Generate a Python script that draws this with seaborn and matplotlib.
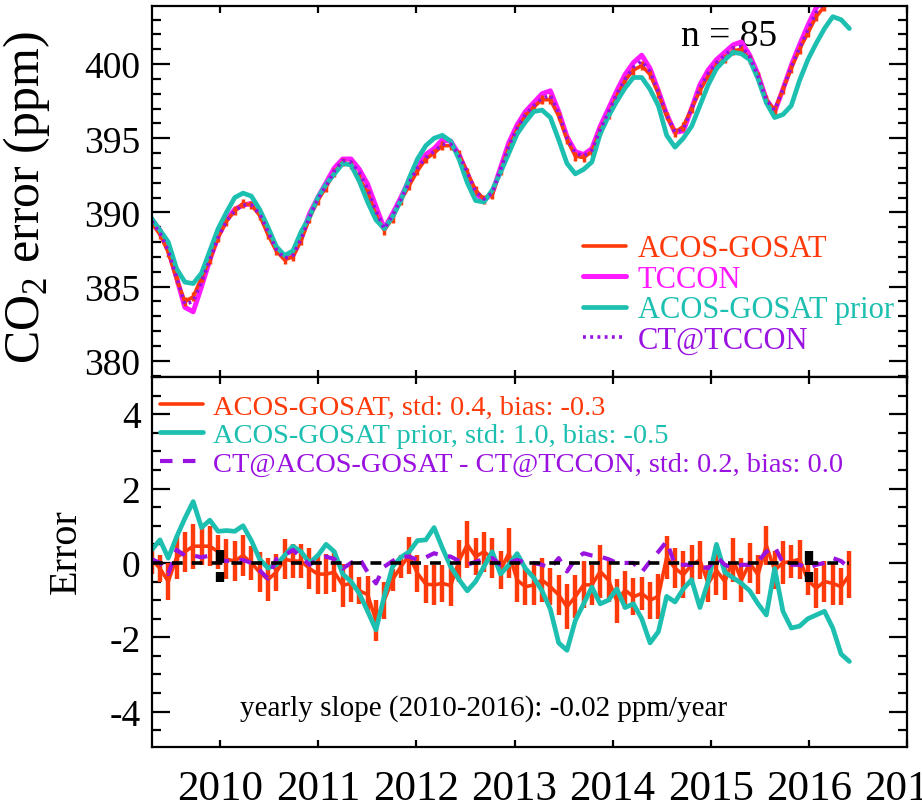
import matplotlib
matplotlib.use("Agg")
import matplotlib.pyplot as plt
import numpy as np
import pandas as pd
import seaborn as sns
from matplotlib.ticker import MultipleLocator

# monthly samples, mid 2009 -> mid 2016 (n = 85)
years = 2009.30 + np.arange(85) * 0.0847

acos = [389.3, 388.5, 387.3, 385.5, 384.0, 384.3, 385.6, 386.8, 388.3, 389.4,
        390.1, 390.6, 390.5, 389.8, 388.5, 387.4, 386.8, 387.0, 388.1, 389.6,
        390.8, 391.7, 392.7, 393.4, 393.2, 392.3, 391.3, 389.8, 388.8, 389.6,
        390.8, 391.8, 392.8, 393.6, 394.0, 394.5, 394.5, 393.9, 392.7, 391.5,
        390.9, 391.2, 392.8, 394.4, 395.6, 396.5, 397.1, 397.6, 397.6, 396.5,
        394.9, 393.8, 393.7, 394.1, 395.5, 396.6, 397.8, 398.9, 399.6, 399.9,
        399.3, 398.0, 396.5, 395.4, 395.8, 397.0, 398.2, 399.2, 399.9, 400.4,
        400.9, 401.0, 400.3, 399.2, 397.6, 396.9, 398.3, 399.7, 401.0, 402.1,
        403.2, 403.9, 404.3, 404.5, 404.3]
tccon = [389.5, 388.8, 387.5, 385.6, 383.6, 383.3, 385.0, 386.8, 388.4, 389.5,
         390.2, 390.5, 390.6, 390.0, 388.8, 387.6, 386.9, 387.1, 388.3, 389.9,
         391.0, 392.0, 393.0, 393.6, 393.6, 392.9, 391.9, 390.4, 388.9, 389.9,
         391.0, 392.2, 393.1, 393.9, 394.3, 394.9, 394.8, 393.9, 392.6, 391.3,
         390.8, 391.3, 393.0, 394.7, 395.9, 396.8, 397.4, 398.0, 398.2, 396.8,
         395.1, 394.1, 393.9, 394.3, 395.8, 397.0, 398.2, 399.3, 400.1, 400.6,
         399.7, 398.2, 396.6, 395.4, 395.5, 397.0, 398.6, 399.6, 400.3, 400.8,
         401.3, 401.5, 400.6, 399.3, 397.6, 396.8, 398.3, 399.9, 401.3, 402.6,
         403.8, 404.5, 404.9, 405.1, 405.0]
prior = [389.6, 388.8, 388.0, 386.2, 385.3, 385.2, 385.9, 387.4, 388.9, 390.0,
         391.0, 391.3, 391.1, 390.2, 389.0, 387.7, 387.1, 387.4, 388.7, 389.7,
         391.0, 391.9, 392.6, 393.3, 393.2, 392.1, 390.7, 389.5, 388.9, 389.7,
         390.8, 392.3, 393.6, 394.5, 395.0, 395.2, 394.8, 393.6, 392.0, 390.8,
         390.7, 391.5, 392.7, 394.0, 395.3, 396.1, 396.8, 396.9, 396.4, 394.9,
         393.3, 392.6, 392.9, 393.4, 395.3, 396.5, 397.5, 398.4, 399.1, 399.1,
         398.3, 397.2, 395.2, 394.4, 395.0, 395.8, 397.2, 398.6, 399.7, 400.3,
         400.8, 400.7, 400.3, 399.0, 397.4, 396.4, 396.6, 397.2, 398.9, 400.3,
         401.4, 402.4, 403.2, 403.0, 402.4]
ct_tccon = [389.4, 388.6, 387.4, 385.6, 383.8, 384.0, 385.3, 386.8, 388.3, 389.4,
            390.1, 390.5, 390.5, 389.9, 388.7, 387.5, 386.9, 387.1, 388.2, 389.7,
            390.9, 391.8, 392.8, 393.5, 393.4, 392.7, 391.6, 390.1, 388.9, 389.8,
            390.9, 392.0, 393.0, 393.7, 394.1, 394.6, 394.6, 393.9, 392.7, 391.4,
            390.9, 391.3, 392.9, 394.5, 395.7, 396.6, 397.2, 397.7, 397.9, 396.7,
            395.0, 394.0, 393.8, 394.2, 395.6, 396.8, 398.0, 399.0, 399.8, 400.2,
            399.5, 398.1, 396.6, 395.4, 395.6, 397.0, 398.4, 399.4, 400.1, 400.6,
            401.1, 401.2, 400.5, 399.2, 397.6, 396.9, 398.3, 399.8, 401.1, 402.3,
            403.5, 404.2, 404.6, 404.8, 404.7]

err_acos = [0.10, -0.15, -0.50, 0.15, 0.30, 0.45, 0.45, 0.45, 0.30, 0.10,
            0.05, 0.20, 0.00, -0.25, -0.45, -0.25, 0.10, 0.05, 0.05, -0.15,
            -0.30, -0.30, -0.25, -0.60, -0.55, -0.75, -0.85, -1.55, -1.00, -0.45,
            -0.10, 0.20, -0.28, -0.57, -0.59, -0.55, -0.61, 0.06, 0.49, 0.17,
            0.30, 0.13, -0.19, 0.26, -0.46, -0.64, -0.59, -0.46, -0.64, -0.86,
            -1.18, -0.91, -0.59, -0.59, -0.23, -0.46, -1.02, -0.73, -0.91, -0.82,
            -1.00, -0.90, 0.15, -0.14, -0.32, -0.05, 0.08, -0.55, -0.20, -0.50,
            0.08, -0.46, 0.00, -0.32, 0.47, -0.19, 0.00, 0.04, 0.10, -0.46,
            -0.68, -0.50, -0.55, -0.64, -0.32]
err_acos_sd = [0.40, 0.36, 0.50, 0.58, 0.54, 0.60, 0.50, 0.54, 0.45, 0.54,
               0.54, 0.54, 0.45, 0.54, 0.58, 0.50, 0.54, 0.45, 0.45, 0.54,
               0.54, 0.54, 0.54, 0.58, 0.50, 0.36, 0.50, 0.54, 0.50, 0.30,
               0.30, 0.50, 0.50, 0.52, 0.54, 0.50, 0.56, 0.56, 0.63, 0.50,
               0.54, 0.54, 0.50, 0.67, 0.58, 0.50, 0.54, 0.58, 0.50, 0.54,
               0.60, 0.58, 0.63, 0.54, 0.72, 0.58, 0.60, 0.50, 0.50, 0.45,
               0.50, 0.60, 0.58, 0.54, 0.63, 0.54, 0.50, 0.50, 0.65, 0.50,
               0.58, 0.58, 0.54, 0.52, 0.52, 0.50, 0.58, 0.45, 0.52, 0.40,
               0.54, 0.54, 0.58, 0.50, 0.63]
err_prior = [0.35, 0.62, 0.13, 0.70, 1.20, 1.65, 0.95, 1.15, 0.85, 0.87,
             0.85, 1.00, 0.60, 0.10, -0.14, -0.05, 0.20, 0.45, 0.30, 0.00,
             0.20, 0.50, 0.30, -0.30, -0.50, -0.82, -1.30, -1.80, -0.90, -0.10,
             0.15, 0.30, 0.60, 0.62, 0.95, 0.40, -0.10, -0.45, -0.75, -0.50,
             -0.10, 0.30, -0.30, -0.05, 0.25, -0.15, -0.40, -0.75, -1.25, -2.15,
             -2.35, -1.55, -1.10, -0.65, -1.10, -1.00, -0.70, -1.20, -1.10, -1.50,
             -2.15, -1.85, -0.90, -1.05, -0.70, -0.45, -1.20, -0.50, 0.50, -0.25,
             -0.40, -0.55, -0.75, -1.10, -1.40, -0.15, -1.30, -1.75, -1.70, -1.50,
             -1.40, -1.30, -1.75, -2.45, -2.65]
err_ct = [0.10, 0.00, -0.30, 0.35, 0.20, 0.20, 0.15, 0.20, 0.10, 0.05,
          0.08, 0.08, 0.00, -0.20, -0.42, 0.10, 0.20, 0.35, 0.15, -0.05,
          0.10, 0.17, 0.10, -0.15, 0.00, 0.13, -0.25, -0.55, -0.10, 0.05,
          0.17, 0.17, 0.08, 0.15, 0.26, 0.20, 0.17, 0.05, -0.05, 0.03,
          0.10, 0.13, -0.05, 0.00, 0.08, 0.00, 0.00, -0.05, -0.14, 0.13,
          -0.23, 0.10, 0.26, 0.20, 0.17, 0.10, 0.00, 0.00, 0.00, -0.25,
          0.04, 0.30, 0.58, -0.05, -0.05, -0.05, -0.10, -0.14, 0.17, -0.05,
          -0.14, -0.05, -0.05, 0.04, 0.30, 0.44, 0.00, -0.05, -0.05, -0.14,
          -0.05, 0.00, 0.13, 0.05, -0.14]

# black reference bars at 2010 and 2016
mark_x = [2010, 2010, 2016, 2016]
mark_lo = [0.0, -0.50, -0.05, -0.50]
mark_hi = [0.35, -0.25, 0.32, -0.25]

RED = "#ff3a0a"
MAGENTA = "#ff1aff"
TEAL = "#1dbfb0"
PURPLE = "#9a12e0"

sns.set_style("ticks")
plt.rcParams["font.family"] = ["Liberation Serif", "DejaVu Serif"]
plt.rcParams["mathtext.fontset"] = "custom"
plt.rcParams["mathtext.rm"] = "Liberation Serif"
plt.rcParams["axes.unicode_minus"] = False
plt.rcParams["axes.linewidth"] = 1.6
for key in ["axes.edgecolor", "axes.labelcolor", "text.color",
            "xtick.color", "ytick.color"]:
    plt.rcParams[key] = "black"

top = pd.DataFrame({"year": years, "acos": acos, "tccon": tccon,
                    "prior": prior, "ct": ct_tccon})
bot = pd.DataFrame({"year": years, "acos": err_acos, "sd": err_acos_sd,
                    "prior": err_prior, "ct": err_ct})

fig = plt.figure(figsize=(9.22, 8.12), dpi=100)
ax1 = fig.add_axes([0.1645, 0.5345, 0.819, 0.4565])
ax2 = fig.add_axes([0.1645, 0.0788, 0.819, 0.4557], sharex=ax1)

# ---- top panel
sns.lineplot(data=top, x="year", y="tccon", color=MAGENTA, lw=3.6, label="TCCON", ax=ax1)
ax1.vlines(top["year"], top["acos"] - 0.3, top["acos"] + 0.3, color=RED, lw=2.5)
sns.lineplot(data=top, x="year", y="acos", color=RED, lw=2.6, label="ACOS-GOSAT", ax=ax1)
sns.lineplot(data=top, x="year", y="prior", color=TEAL, lw=3.4, label="ACOS-GOSAT prior", ax=ax1)
sns.lineplot(data=top, x="year", y="ct", color=PURPLE, lw=2.6, label="CT@TCCON", ax=ax1)
ax1.lines[-1].set_dashes([0.8, 1.2])

h, l = ax1.get_legend_handles_labels()
idx = [l.index(s) for s in ["ACOS-GOSAT", "TCCON", "ACOS-GOSAT prior", "CT@TCCON"]]
ax1.legend([h[i] for i in idx], [l[i] for i in idx], loc="upper left",
           bbox_to_anchor=(0.571, 0.385), frameon=False, fontsize=22,
           labelcolor="linecolor", handlelength=1.4, handletextpad=0.4,
           labelspacing=0.05, borderpad=0, borderaxespad=0)
ax1.text(2015.19, 401.9, "n = 85", fontsize=27, ha="center", va="center", zorder=1)

ax1.set_xlim(2009.30, 2017.0)
ax1.set_ylim(378.9, 403.9)
ax1.yaxis.set_major_locator(MultipleLocator(5))
ax1.yaxis.set_minor_locator(MultipleLocator(1))
ax1.set_xlabel("")
ax1.set_ylabel("CO$_\\mathrm{2}$ error (ppm)", fontsize=36)
ax1.yaxis.set_label_coords(-0.132, 0.488)
ax1.tick_params(axis="x", labelbottom=False)

# ---- bottom panel
ax2.vlines(bot["year"], bot["acos"] - bot["sd"], bot["acos"] + bot["sd"], color=RED, lw=3.2)
sns.lineplot(data=bot, x="year", y="acos", color=RED, lw=2.6,
             label="ACOS-GOSAT, std: 0.4, bias: -0.3", ax=ax2)
sns.lineplot(data=bot, x="year", y="prior", color=TEAL, lw=3.4,
             label="ACOS-GOSAT prior, std: 1.0, bias: -0.5", ax=ax2)
sns.lineplot(data=bot, x="year", y="ct", color=PURPLE, lw=3.0,
             label="CT@ACOS-GOSAT - CT@TCCON, std: 0.2, bias: 0.0", ax=ax2)
ax2.lines[-1].set_dashes([3, 2.5])
ax2.hlines(0, years[0], years[-1], color="black", lw=2.6, linestyles=(0, (3, 2.5)))
ax2.vlines(mark_x, mark_lo, mark_hi, color="black", lw=6)

ax2.legend(loc="upper left", bbox_to_anchor=(0.011, 0.955), frameon=False,
           fontsize=20.5, labelcolor="linecolor", handlelength=1.5,
           handletextpad=0.35, labelspacing=0.1, borderpad=0, borderaxespad=0)
ax2.text(2012.68, -3.9, "yearly slope (2010-2016): -0.02 ppm/year",
         fontsize=21, ha="center", va="center")

ax2.set_ylim(-4.95, 5.0)
ax2.yaxis.set_major_locator(MultipleLocator(2))
ax2.yaxis.set_minor_locator(MultipleLocator(0.5))
ax2.set_xticks(range(2010, 2018))
ax2.set_xticklabels([str(y) for y in range(2010, 2018)])
ax2.set_xlim(2009.30, 2017.0)
ax2.set_xlabel("")
ax2.set_ylabel("Error", fontsize=29)
ax2.yaxis.set_label_coords(-0.088, 0.53)

for ax in (ax1, ax2):
    ax.tick_params(which="both", direction="in", top=True, right=True, width=1.6)
    ax.tick_params(axis="y", which="major", length=13, labelsize=27, pad=8)
    ax.tick_params(axis="y", which="minor", length=6.5)
    ax.tick_params(axis="x", which="major", length=5, labelsize=31, pad=16)
    ax.tick_params(axis="x", which="minor", length=0)

fig.savefig("out.png", dpi=100)
